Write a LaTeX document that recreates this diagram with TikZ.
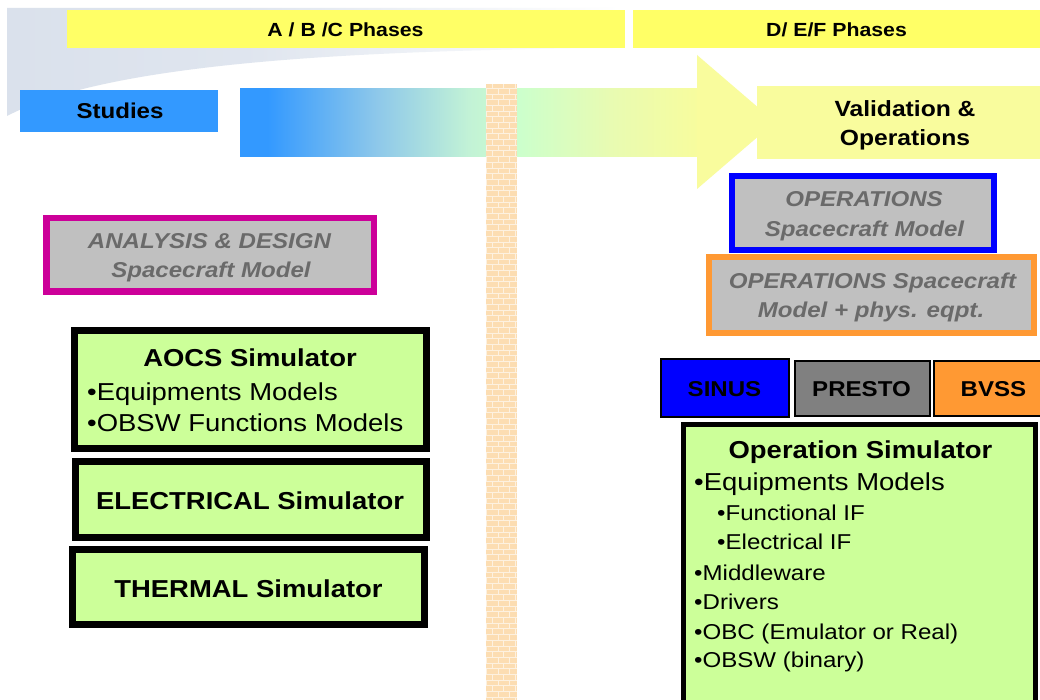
\documentclass[tikz,border=0pt]{standalone}
\usepackage{fontspec}
\setmainfont{Liberation Sans}[FakeStretch=1.12]
\usetikzlibrary{patterns}
\definecolor{phaseyellow}{HTML}{FFFF66}
\definecolor{studyblue}{HTML}{3399FF}
\definecolor{paleyellow}{HTML}{F9FC9D}
\definecolor{swooshc}{HTML}{DAE1EC}
\definecolor{stripor}{HTML}{FCDDB2}
\definecolor{modelgray}{HTML}{C0C0C0}
\definecolor{modeltext}{HTML}{6A6A6A}
\definecolor{magentab}{HTML}{CC0099}
\definecolor{simgreen}{HTML}{CCFF99}
\definecolor{opblue}{HTML}{0000FF}
\definecolor{oporange}{HTML}{FF9933}
\definecolor{prestogray}{HTML}{808080}
\definecolor{ashA}{HTML}{3399FF}
\definecolor{ashB}{HTML}{8EC8EA}
\definecolor{ashC}{HTML}{C2F2D6}
\definecolor{ashD}{HTML}{CCFFCC}
\definecolor{ashE}{HTML}{E8FBB2}
\definecolor{ashF}{HTML}{F7FC9E}
\pgfdeclarehorizontalshading{arrowshade}{100bp}{color(0bp)=(ashA); color(25bp)=(ashA); color(28bp)=(ashA); color(40bp)=(ashB); color(50bp)=(ashC); color(55.6bp)=(ashD); color(65.5bp)=(ashE); color(75bp)=(ashF); color(100bp)=(ashF)}
\pgfdeclarehorizontalshading{swooshshade}{100bp}{color(0bp)=(swooshc); color(25bp)=(swooshc); color(45bp)=(swooshc!85!white); color(75bp)=(white); color(100bp)=(white)}
\tikzset{
  fbig/.style={font=\fontsize{24.5}{28}\selectfont},
  fbigb/.style={font=\fontsize{24.5}{28}\selectfont\bfseries},
  fmid/.style={font=\fontsize{21.5}{25}\selectfont},
  fmidb/.style={font=\fontsize{21.5}{25}\selectfont\bfseries},
  fvalid/.style={font=\fontsize{22}{25}\selectfont\bfseries},
  fphase/.style={font=\fontsize{19}{22}\selectfont\bfseries},
  fmodel/.style={font=\fontsize{21.5}{25}\selectfont\bfseries\itshape, text=modeltext},
  txt/.style={inner sep=0pt, anchor=base},
  txtl/.style={inner sep=0pt, anchor=base west},
  plainbox/.style={inner sep=0pt, outer sep=0pt},
  simbox/.style={plainbox, draw=black, fill=simgreen, line width=7pt},
  modelbox/.style={plainbox, fill=modelgray, line width=6.5pt},
  toolbox/.style={plainbox, draw=black, line width=2pt},
}
\begin{document}
\begin{tikzpicture}[x=1pt,y=-1pt]
\useasboundingbox (0,0) rectangle (1040,700);
\clip (0,0) rectangle (1040,700);
\fill[white] (0,0) rectangle (1040,700);
% swoosh
\shade[shading=swooshshade] (7,8) -- (620,8) -- (620,48) .. controls (360,50) and (110,62) .. (7,116) -- cycle;
% phase bars
\node[plainbox, fill=phaseyellow, minimum width=558pt, minimum height=38pt] (ph1) at (346,29) {};
\node[plainbox, fill=phaseyellow, minimum width=407pt, minimum height=38pt] (ph2) at (836.5,29) {};
\node[txt, fphase] (ph1t) at (345.5,37) {A / B /C Phases};
\node[txt, fphase] (ph2t) at (836.5,37) {D/ E/F Phases};
% studies
\node[plainbox, fill=studyblue, minimum width=198pt, minimum height=42pt] (studies) at (119,111) {};
\node[txt, fmidb] (studiest) at (120,119) {Studies};
% arrow
\shade[shading=arrowshade] (240,89) rectangle (697,157);
\fill[paleyellow] (697,55) -- (775,122) -- (697,189) -- cycle;
% strip
\fill[stripor] (486,84) rectangle (517,700);
\fill[pattern=bricks, pattern color=white, opacity=0.6] (486,84) rectangle (517,700);
% validation
\node[plainbox, fill=paleyellow, minimum width=295pt, minimum height=73pt] (valid) at (904.5,122.5) {};
\node[txt, fvalid] (validt1) at (905,117) {Validation \&};
\node[txt, fvalid] (validt2) at (905,146) {Operations};
% analysis
\node[modelbox, draw=magentab, minimum width=327.5pt, minimum height=73.5pt] (analysis) at (210,255) {};
\node[txt, fmodel] (analysist1) at (209.5,249) {ANALYSIS \& DESIGN};
\node[txt, fmodel] (analysist2) at (211,278) {Spacecraft Model};
% operations models
\node[modelbox, draw=opblue, line width=6pt, minimum width=262pt, minimum height=74pt] (ops1) at (863,213) {};
\node[txt, fmodel] (ops1t1) at (864,207) {OPERATIONS};
\node[txt, fmodel] (ops1t2) at (864.5,237) {Spacecraft Model};
\node[modelbox, draw=oporange, line width=6pt, minimum width=325pt, minimum height=76pt] (ops2) at (871.5,295) {};
\node[txt, fmodel] (ops2t1) at (872.5,288) {OPERATIONS Spacecraft};
\node[txt, fmodel] (ops2t2) at (871,317) {Model + phys. eqpt.};
% tools
\node[toolbox, fill=opblue, minimum width=128pt, minimum height=58pt] (sinus) at (725,388) {};
\node[toolbox, fill=prestogray, minimum width=135pt, minimum height=55pt] (presto) at (862.5,388.5) {};
\node[toolbox, fill=oporange, minimum width=118pt, minimum height=55pt] (bvss) at (993,388.5) {};
\node[txt, fmidb] (sinust) at (724.5,396) {SINUS};
\node[txt, fmidb] (prestot) at (861.5,396) {PRESTO};
\node[txt, fmidb] (bvsst) at (993.5,396) {BVSS};
% AOCS
\node[simbox, minimum width=352pt, minimum height=118pt] (aocs) at (250.5,389.5) {};
\node[txt, fbigb] (aocst) at (250,366) {AOCS Simulator};
\node[txtl, fbig] (aocs1) at (87,400) {•Equipments Models};
\node[txtl, fbig] (aocs2) at (87,431) {•OBSW Functions Models};
% electrical
\node[simbox, minimum width=351pt, minimum height=76pt] (elec) at (251,499.5) {};
\node[txt, fbigb] (elect) at (250,509) {ELECTRICAL Simulator};
% thermal
\node[simbox, minimum width=352pt, minimum height=75pt] (therm) at (248.5,587) {};
\node[txt, fbigb] (thermt) at (248.5,597) {THERMAL Simulator};
% operation simulator
\node[simbox, line width=5pt, minimum width=352pt, minimum height=293pt] (opsim) at (859.5,571) {};
\node[txt, fbigb] (opsimt) at (860.5,458) {Operation Simulator};
\node[txtl, fbig] (op1) at (694,490) {•Equipments Models};
\node[txtl, fmid] (op2) at (717,520) {•Functional IF};
\node[txtl, fmid] (op3) at (717,549) {•Electrical IF};
\node[txtl, fmid] (op4) at (694,580) {•Middleware};
\node[txtl, fmid] (op5) at (694,609) {•Drivers};
\node[txtl, fmid] (op6) at (694,639) {•OBC (Emulator or Real)};
\node[txtl, fmid] (op7) at (694,667) {•OBSW (binary)};
\end{tikzpicture}
\end{document}
